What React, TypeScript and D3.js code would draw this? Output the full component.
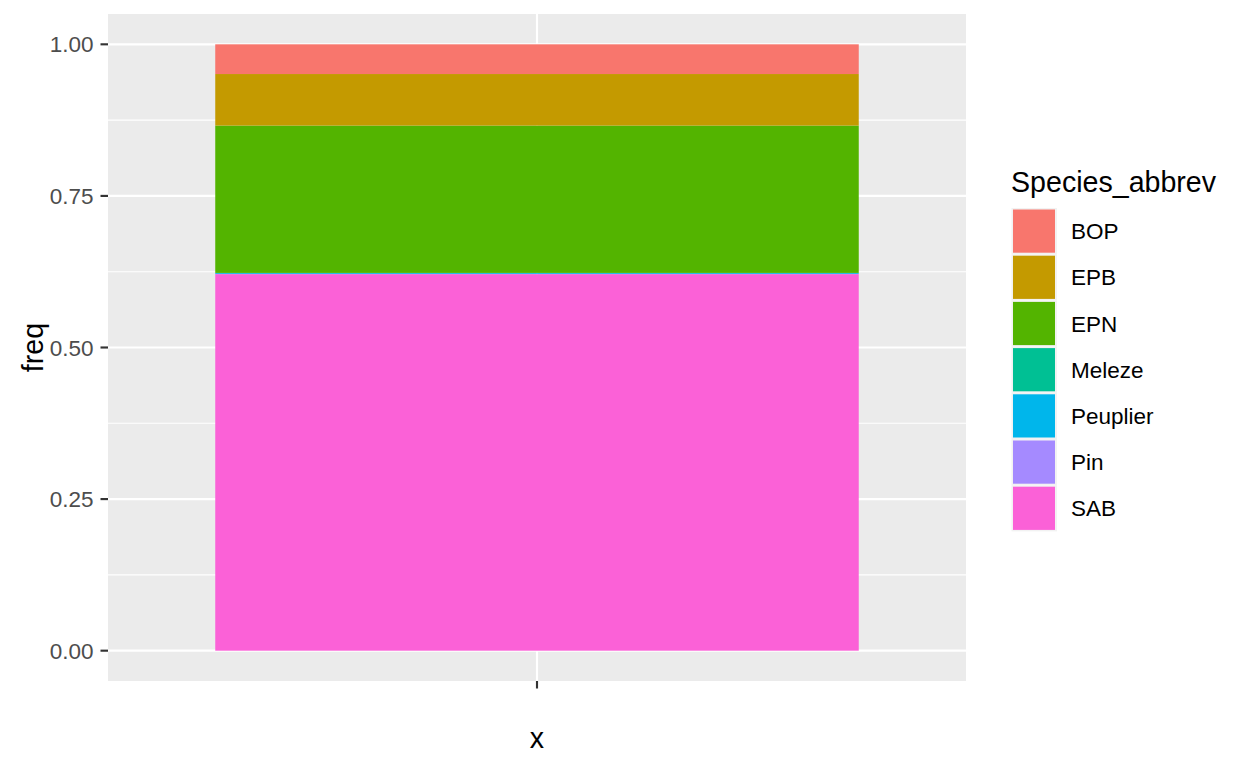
import React from "react";
import * as d3 from "d3";

const categories = [""];
const species = ["BOP", "EPB", "EPN", "Meleze", "Peuplier", "Pin", "SAB"];
const freqValues = [0.049, 0.085, 0.243, 0.0, 0.0015, 0.0005, 0.621];
const colors = ["#F8766D", "#C49A00", "#53B400", "#00C094", "#00B6EB", "#A58AFF", "#FB61D7"];
const yTicks = [0, 0.25, 0.5, 0.75, 1.0];
const yMinor = [0.125, 0.375, 0.625, 0.875];

export default function App() {
  const W = 1248, H = 768;
  const pL = 108, pR = 966, pT = 14, pB = 681;
  const x = d3.scaleBand().domain(categories).range([pL, pR]).paddingOuter(0.1).paddingInner(0);
  const y = d3.scaleLinear().domain([-0.05, 1.05]).range([pB, pT]);
  const bw = x.bandwidth();
  const cx = (x(categories[0]) as number) + bw / 2;
  const barW = bw * 0.9;

  // stack: SAB at bottom (last species), BOP on top
  const segs: { sp: string; c: string; y0: number; y1: number }[] = [];
  let acc = 0;
  for (let i = species.length - 1; i >= 0; i--) {
    segs.push({ sp: species[i], c: colors[i], y0: acc, y1: acc + freqValues[i] });
    acc += freqValues[i];
  }

  const font = "'Liberation Sans', Arial, sans-serif";
  const keyTop = 208, keyH = 46.2;
  const small = 22.5, big = 28.6;

  return (
    <svg width={W} height={H} style={{ position: "absolute", left: 0, top: 0 }} fontFamily={font}>
      <rect x={0} y={0} width={W} height={H} fill="white" />
      <rect x={pL} y={pT} width={pR - pL} height={pB - pT} fill="#EBEBEB" />
      {yMinor.map((t) => (
        <line key={"m" + t} x1={pL} x2={pR} y1={y(t)} y2={y(t)} stroke="white" strokeWidth={1.07} />
      ))}
      {yTicks.map((t) => (
        <line key={"g" + t} x1={pL} x2={pR} y1={y(t)} y2={y(t)} stroke="white" strokeWidth={2.13} />
      ))}
      <line x1={cx} x2={cx} y1={pT} y2={pB} stroke="white" strokeWidth={2.13} />
      {segs.map((s) => (
        <rect key={s.sp} x={cx - barW / 2} width={barW} y={y(s.y1)} height={Math.max(0, y(s.y0) - y(s.y1))} fill={s.c} />
      ))}
      {yTicks.map((t) => (
        <g key={"t" + t}>
          <line x1={pL - 7.5} x2={pL} y1={y(t)} y2={y(t)} stroke="#333333" strokeWidth={2.13} />
          <text x={pL - 14.5} y={y(t)} dy="0.36em" textAnchor="end" fontSize={small} fill="#4D4D4D">
            {t.toFixed(2)}
          </text>
        </g>
      ))}
      <line x1={cx} x2={cx} y1={pB} y2={pB + 7.5} stroke="#333333" strokeWidth={2.13} />
      <text x={cx} y={748} textAnchor="middle" fontSize={big} fill="black">x</text>
      <text transform={`translate(43, ${(pT + pB) / 2}) rotate(-90)`} textAnchor="middle" fontSize={big} fill="black">freq</text>
      <text x={1011} y={192} fontSize={big} fill="black">Species_abbrev</text>
      {species.map((sp, i) => (
        <g key={"k" + sp}>
          <rect x={1011.5} y={keyTop + i * keyH} width={45.5} height={keyH} fill="#F2F2F2" />
          <rect x={1013} y={keyTop + i * keyH + 1.5} width={42} height={keyH - 3} fill={colors[i]} />
          <text x={1071} y={keyTop + i * keyH + keyH / 2} dy="0.36em" fontSize={small} fill="black">{sp}</text>
        </g>
      ))}
    </svg>
  );
}
